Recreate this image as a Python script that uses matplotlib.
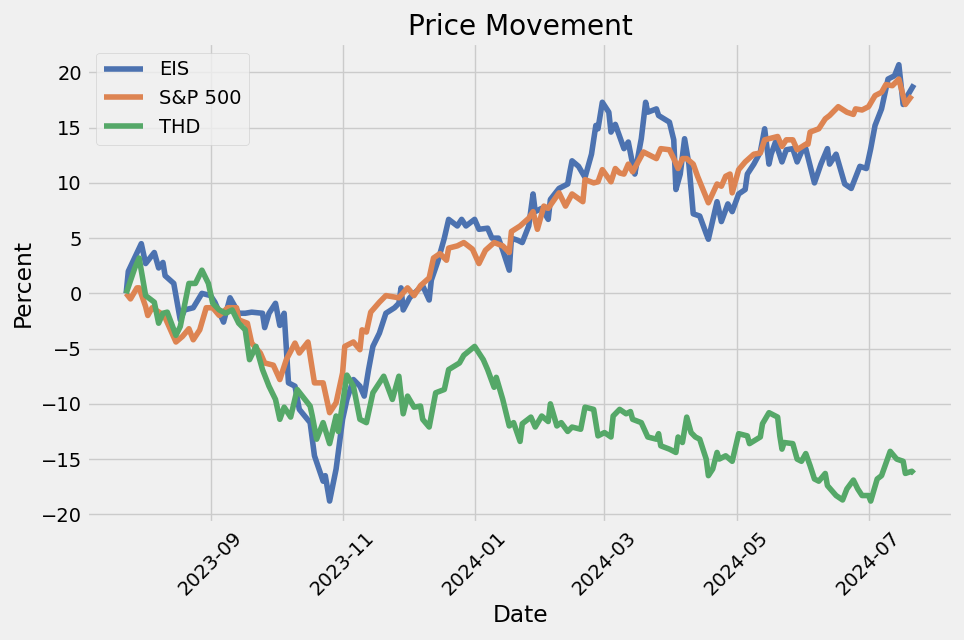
import pandas as pd
import matplotlib
matplotlib.use("Agg")
import matplotlib.pyplot as plt
import matplotlib.dates as mdates

start_date = "2023-07-24"

# days since start_date, cumulative percent change
eis_day = [0, 1, 7, 9, 13, 15, 17, 18, 22, 25, 27, 31, 35, 39, 41, 45, 48, 52, 55, 58,
           63, 64, 66, 69, 71, 73, 75, 78, 80, 85, 87, 91, 92, 94, 97, 100, 102, 105, 108, 110,
           112, 114, 117, 120, 124, 126, 127, 128, 131, 133, 137, 140, 141, 144, 147, 149, 153, 155, 157, 161,
           163, 167, 169, 172, 174, 177, 178, 181, 183, 186, 188, 189, 192, 195, 196, 200, 204, 205, 206, 209,
           212, 215, 217, 218, 220, 223, 224, 226, 230, 232, 234, 235, 238, 240, 241, 245, 246, 251, 253, 254,
           256, 258, 260, 262, 265, 268, 269, 273, 275, 278, 280, 283, 286, 287, 290, 293, 295, 297, 298, 300,
           303, 305, 308, 310, 312, 314, 317, 318, 321, 324, 325, 328, 332, 335, 339, 342, 344, 346, 349, 352,
           355, 357, 359, 361, 364]
eis_pct = [0.0, 2.0, 4.5, 2.7, 3.7, 2.3, 2.8, 1.6, 0.9, -2.4, -1.5, -1.3, 0.0, -0.2, -0.8, -2.6, -0.4, -1.8, -1.8, -1.7,
           -1.8, -3.1, -1.8, -0.9, -2.9, -1.8, -8.1, -8.4, -10.5, -11.7, -14.7, -17.0, -16.5, -18.8, -15.9, -11.4, -9.6, -7.8, -8.4, -9.3,
           -6.9, -4.8, -3.6, -1.8, -1.3, -0.9, 0.5, -1.5, -0.4, 0.0, 0.7, -0.6, 1.2, 2.9, 5.0, 6.7, 6.1, 6.7, 6.1, 6.7,
           5.8, 5.9, 5.0, 5.0, 3.9, 2.1, 5.0, 4.8, 4.6, 6.1, 9.0, 7.4, 7.7, 6.7, 8.5, 9.5, 9.9, 11.0, 12.0, 11.5,
           10.5, 12.6, 15.2, 14.9, 17.3, 16.4, 14.6, 15.3, 13.1, 13.7, 11.7, 10.8, 14.0, 17.3, 16.4, 16.7, 16.1, 15.5, 13.9, 9.4,
           10.8, 14.0, 11.7, 7.2, 7.0, 5.4, 4.9, 8.3, 6.5, 8.1, 7.4, 9.0, 9.4, 10.8, 11.7, 12.8, 14.9, 11.7, 12.6, 13.7,
           11.9, 13.0, 13.1, 11.9, 12.8, 13.1, 10.8, 10.0, 11.7, 13.1, 11.7, 12.6, 9.9, 9.5, 11.5, 11.3, 13.1, 15.2, 16.7, 19.4,
           19.7, 20.7, 17.1, 17.9, 18.9]

spx_day = [0, 2, 5, 6, 9, 10, 12, 16, 18, 23, 26, 29, 31, 34, 37, 40, 43, 47, 51, 52,
           56, 58, 62, 64, 68, 71, 74, 78, 80, 84, 87, 91, 94, 97, 100, 101, 105, 108, 109, 111,
           113, 117, 120, 126, 130, 133, 136, 140, 142, 145, 148, 149, 153, 156, 160, 163, 166, 170, 174, 177,
           178, 182, 186, 188, 190, 193, 195, 200, 203, 206, 211, 212, 216, 218, 220, 224, 226, 228, 230, 232,
           234, 239, 245, 247, 251, 253, 255, 257, 259, 262, 264, 269, 273, 275, 277, 279, 280, 283, 286, 290,
           293, 295, 301, 303, 305, 308, 310, 314, 315, 316, 320, 323, 325, 329, 333, 336, 337, 340, 343, 346,
           349, 351, 354, 357, 360, 363]
spx_pct = [0.0, -0.5, 0.5, 0.5, -1.2, -2.0, -1.3, -1.8, -2.2, -4.4, -3.9, -3.2, -4.2, -3.3, -1.3, -1.3, -2.0, -1.3, -1.3, -2.4,
           -2.7, -4.5, -5.4, -6.3, -6.5, -7.8, -6.0, -4.5, -5.4, -4.4, -8.1, -8.1, -10.8, -9.9, -7.2, -4.8, -4.4, -5.1, -3.3, -3.5,
           -1.7, -0.8, -0.2, -0.4, 0.5, -0.2, 0.7, 1.4, 3.2, 3.6, 3.0, 4.1, 4.3, 4.6, 4.0, 2.7, 3.9, 4.6, 4.3, 3.7,
           5.6, 6.1, 6.8, 7.4, 5.8, 7.9, 7.7, 9.1, 7.9, 9.0, 8.3, 10.3, 10.0, 10.1, 11.2, 10.1, 11.3, 10.9, 10.8, 11.7,
           11.0, 12.8, 12.2, 13.1, 13.0, 12.2, 11.3, 12.2, 12.2, 11.7, 10.6, 8.2, 9.9, 9.7, 10.6, 10.8, 9.1, 11.2, 11.9, 12.6,
           12.7, 13.9, 14.2, 13.3, 13.9, 13.9, 13.0, 13.5, 13.5, 14.6, 14.9, 15.8, 16.1, 16.9, 16.4, 16.2, 16.7, 16.6, 16.9, 17.9,
           18.2, 18.9, 18.8, 19.4, 17.1, 17.9]

thd_day = [0, 4, 6, 9, 13, 15, 17, 19, 23, 25, 29, 32, 35, 38, 40, 43, 46, 49, 52, 55,
           57, 60, 63, 66, 69, 71, 73, 76, 79, 85, 86, 88, 91, 94, 97, 98, 102, 105, 108, 111,
           114, 119, 123, 126, 128, 130, 133, 136, 137, 140, 143, 147, 149, 154, 156, 161, 165, 167, 170, 171,
           174, 177, 179, 182, 183, 187, 189, 192, 195, 196, 199, 201, 204, 206, 210, 212, 216, 218, 221, 224,
           225, 228, 231, 233, 234, 238, 241, 245, 246, 247, 251, 254, 255, 257, 259, 261, 263, 265, 268, 269,
           271, 273, 274, 277, 280, 283, 287, 288, 293, 294, 297, 301, 302, 303, 304, 308, 310, 312, 314, 316,
           318, 320, 323, 324, 328, 331, 333, 336, 338, 340, 343, 344, 347, 349, 353, 356, 359, 360, 363, 364]
thd_pct = [0.0, 2.3, 3.2, -0.2, -0.8, -2.7, -1.8, -1.7, -3.8, -3.0, 0.9, 0.9, 2.1, 0.9, -0.9, -1.5, -1.8, -1.5, -2.7, -3.3,
           -6.0, -4.8, -6.9, -8.4, -9.6, -11.4, -10.3, -11.2, -8.7, -10.2, -11.1, -13.2, -11.7, -13.6, -11.1, -12.5, -7.4, -8.4, -11.4, -11.7,
           -9.0, -7.5, -9.6, -7.5, -10.9, -9.3, -10.3, -10.2, -11.4, -12.1, -9.0, -8.7, -6.9, -6.3, -5.6, -4.8, -6.0, -6.9, -8.5, -7.6,
           -9.6, -12.0, -11.7, -13.4, -11.8, -11.2, -12.1, -11.1, -11.6, -10.0, -12.0, -11.7, -12.5, -12.1, -12.3, -10.3, -10.5, -12.9, -12.6, -13.0,
           -11.1, -10.5, -10.9, -10.7, -11.4, -11.7, -13.0, -13.2, -12.7, -13.8, -14.1, -14.4, -13.0, -13.5, -11.2, -12.6, -13.0, -13.2, -15.0, -16.5,
           -15.9, -14.4, -15.0, -14.7, -15.2, -12.7, -12.9, -13.6, -13.0, -11.8, -10.8, -11.2, -12.9, -14.1, -13.5, -13.6, -15.0, -15.2, -14.5, -15.6,
           -16.8, -17.0, -16.3, -17.4, -18.3, -18.7, -17.7, -16.9, -17.7, -18.3, -18.3, -18.8, -16.8, -16.5, -14.3, -15.0, -15.2, -16.3, -16.1, -16.3]

series_names = ["EIS", "S&P 500", "THD"]


def to_dates(days):
    return pd.Timestamp(start_date) + pd.to_timedelta(days, unit="D")


plt.style.use("fivethirtyeight")
colors = ["#4C72B0", "#DD8452", "#55A868"]

fig, ax = plt.subplots(figsize=(9.64, 6.4), dpi=100)
fig.patch.set_facecolor("#f0f0f0")

for name, days, pct, c in zip(series_names,
                              [eis_day, spx_day, thd_day],
                              [eis_pct, spx_pct, thd_pct],
                              colors):
    ax.plot(to_dates(days), pct, color=c, linewidth=4, label=name)

ax.xaxis.set_major_locator(mdates.MonthLocator(bymonth=[1, 3, 5, 7, 9, 11]))
ax.xaxis.set_major_formatter(mdates.DateFormatter("%Y-%m"))
plt.setp(ax.get_xticklabels(), rotation=45)

ax.set_title("Price Movement")
ax.set_xlabel("Date")
ax.set_ylabel("Percent")
ax.legend(loc="upper left")

fig.subplots_adjust(left=0.090, right=0.989, top=0.933, bottom=0.183)
plt.savefig("out.png", dpi=100, facecolor=fig.get_facecolor())
